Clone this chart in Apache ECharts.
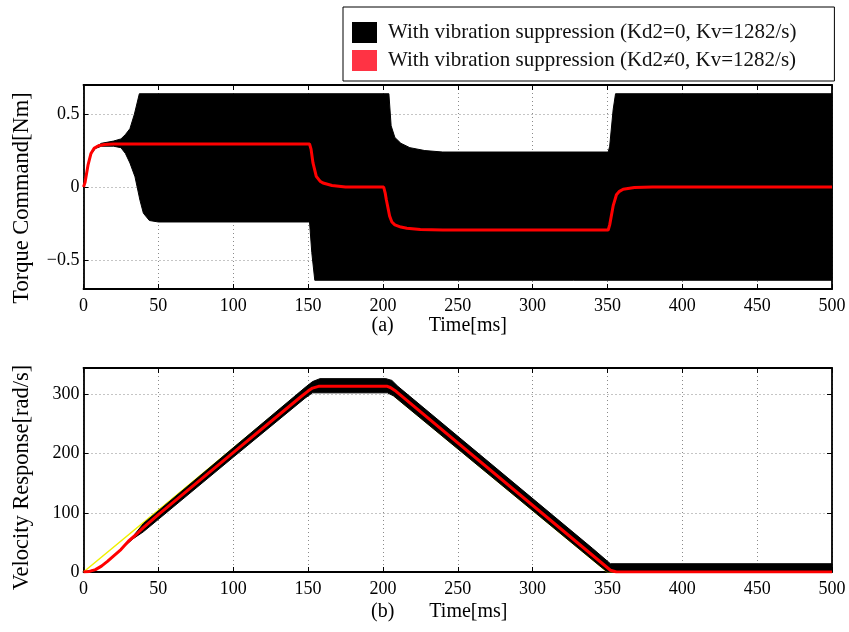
<!DOCTYPE html>
<html>
<head>
<meta charset="utf-8">
<script src="https://cdn.jsdelivr.net/npm/echarts@6.0.0/dist/echarts.min.js"></script>
<style>
  html, body { margin: 0; padding: 0; background: #fff; }
  #chart { width: 849px; height: 632px; }
</style>
</head>
<body>
<div id="chart"></div>
<script>
// names
const nameBlack = 'With vibration suppression (Kd2=0, Kv=1282/s)';
const nameRed = 'With vibration suppression (Kd2\u22600, Kv=1282/s)';
const timeTicks = [0, 50, 100, 150, 200, 250, 300, 350, 400, 450, 500];
const torqueTicks = [-0.5, 0, 0.5];
const velocityTicks = [0, 100, 200, 300];

// (a) torque command: envelope of the oscillating black trace, [ms, Nm]
const torqueBlackUpper = [[0, 0], [3, 0.15], [5, 0.235], [8, 0.275], [12, 0.3], [20, 0.315], [25, 0.33], [28, 0.36], [31, 0.4], [34, 0.5], [37.3, 0.64],
  [204, 0.64], [205.5, 0.42], [208, 0.34], [212, 0.3], [218, 0.27], [228, 0.25], [240, 0.24],
  [350.5, 0.24], [351.5, 0.28], [353.8, 0.53], [355.4, 0.64], [500, 0.64]];
const torqueBlackLower = [[0, 0], [3, 0.14], [5, 0.225], [8, 0.265], [12, 0.28], [20, 0.28], [25, 0.27], [28, 0.23], [31, 0.165], [34.4, 0.07], [37.7, -0.09],
  [40, -0.18], [44, -0.23], [50, -0.24], [151, -0.24], [152.5, -0.45], [154.5, -0.64], [500, -0.64]];
const torqueRed = [[0, 0], [1, 0.03], [3, 0.15], [5, 0.23], [7, 0.265], [10, 0.283], [14, 0.292], [20, 0.295],
  [151, 0.295], [152, 0.26], [153.3, 0.165], [155.5, 0.073], [158, 0.04], [160, 0.027], [166, 0.01], [175, 0],
  [200.5, 0], [201.5, -0.04], [202.3, -0.087], [204.5, -0.2], [206, -0.24], [208, -0.26], [212, -0.275], [216, -0.283], [225, -0.292], [240, -0.295],
  [350.5, -0.295], [351.5, -0.26], [353.8, -0.13], [356, -0.053], [358, -0.03], [360.5, -0.015], [368, -0.003], [380, 0], [500, 0]];

// (b) velocity response, [ms, rad/s]
const velocityRef = [[0, 0], [150, 314], [200, 314], [350, 0], [500, 0]];
const velocityBlackUpper = [[0, 0], [8, 4], [16, 18], [25, 38], [33, 60], [40, 82], [100, 210], [148, 312], [153, 322], [158, 327],
  [202, 327], [206, 324], [210, 314], [340, 40], [352, 14], [500, 14]];
const velocityBlackLower = [[0, 0], [8, 4], [16, 18], [25, 38], [33, 56], [40, 68], [100, 194], [148, 294], [153, 303],
  [203, 303], [207, 298], [345, 10], [350, 0], [500, 0]];
const velocityRed = [[0, 0], [4, 1], [8, 4], [12, 10], [16, 18], [20, 27], [25, 38], [30, 52], [35, 63], [40, 75], [50, 97],
  [100, 202], [145, 296], [150, 306], [153, 311], [157, 314], [203, 314], [205, 312], [208, 307], [352, 3], [356, 0], [500, 0]];

const font = 'Liberation Serif';
const frame = { show: true, onZero: false, lineStyle: { color: '#000', width: 1.8 } };
const grid = { type: [1, 3], color: '#8a8a8a', width: 1 };

function xAxes(gridIndex, name, gap) {
  return [{
    gridIndex, type: 'value', min: 0, max: 500, position: 'bottom',
    name, nameLocation: 'middle', nameGap: gap,
    nameTextStyle: { fontFamily: font, fontSize: 20, color: '#000', padding: [0, 37, 0, 0] },
    axisLine: frame,
    axisTick: { inside: true, length: 5, customValues: timeTicks, lineStyle: { color: '#000' } },
    axisLabel: { customValues: timeTicks, fontFamily: font, fontSize: 18, color: '#000', margin: 8 },
    splitLine: { show: true, lineStyle: grid }
  }, {
    gridIndex, type: 'value', min: 0, max: 500, position: 'top',
    axisLine: frame,
    axisTick: { inside: true, length: 5, customValues: timeTicks, lineStyle: { color: '#000' } },
    axisLabel: { show: false },
    splitLine: { show: false }
  }];
}

function yAxes(gridIndex, min, max, ticks, name, shift) {
  return [{
    gridIndex, type: 'value', min, max, position: 'left',
    name, nameLocation: 'middle', nameGap: 50,
    nameTextStyle: { fontFamily: font, fontSize: 22.5, color: '#000', padding: [0, shift, 0, 0] },
    axisLine: frame,
    axisTick: { inside: true, length: 5, customValues: ticks, lineStyle: { color: '#000' } },
    axisLabel: { customValues: ticks, fontFamily: font, fontSize: 18, color: '#000', margin: 4,
      formatter: (v) => (v < 0 ? '\u2212' + String(-v) : String(v)) },
    splitLine: { show: true, lineStyle: grid }
  }, {
    gridIndex, type: 'value', min, max, position: 'right',
    axisLine: frame,
    axisTick: { inside: true, length: 5, customValues: ticks, lineStyle: { color: '#000' } },
    axisLabel: { show: false },
    splitLine: { show: false }
  }];
}

// filled band between an upper and a lower envelope
function band(name, xAxisIndex, yAxisIndex, upper, lower) {
  return {
    name, type: 'custom', xAxisIndex, yAxisIndex, z: 3,
    itemStyle: { color: '#000' },
    data: [[0, 0]],
    renderItem: (params, api) => {
      const pts = upper.map((p) => api.coord(p)).concat(lower.slice().reverse().map((p) => api.coord(p)));
      return { type: 'polygon', shape: { points: pts }, style: { fill: '#000', stroke: '#000', lineWidth: 1 } };
    }
  };
}

function line(name, xAxisIndex, yAxisIndex, data, color, width, z) {
  return {
    name, type: 'line', xAxisIndex, yAxisIndex, data, z,
    symbol: 'none', smooth: false, animation: false,
    lineStyle: { color, width }, itemStyle: { color }
  };
}

const chart = echarts.init(document.getElementById('chart'));
chart.setOption({
  animation: false,
  backgroundColor: '#fff',
  textStyle: { fontFamily: font },
  grid: [
    { left: 83.5, right: 17, top: 85, bottom: 343 },
    { left: 83.5, right: 17, top: 368, bottom: 60 }
  ],
  xAxis: [...xAxes(0, '(a)       Time[ms]', 27), ...xAxes(1, '(b)       Time[ms]', 30)],
  yAxis: [...yAxes(0, -0.7, 0.7, torqueTicks, 'Torque Command[Nm]', 22), ...yAxes(1, 0, 345, velocityTicks, 'Velocity Response[rad/s]', 15)],
  legend: {
    orient: 'vertical', left: 343, top: 7, z: 10,
    backgroundColor: '#fff', borderColor: '#000', borderWidth: 1,
    padding: [15, 38, 10, 9],
    itemWidth: 25, itemHeight: 21, itemGap: 7, icon: 'rect',
    textStyle: { fontFamily: font, fontSize: 21, color: '#111', padding: [0, 0, 0, 6] },
    data: [
      { name: nameBlack, itemStyle: { color: '#000' } },
      { name: nameRed, itemStyle: { color: '#ff3344' } }
    ]
  },
  series: [
    band(nameBlack, 0, 0, torqueBlackUpper, torqueBlackLower),
    line(nameRed, 0, 0, torqueRed, '#ff0000', 3, 5),
    line('Reference', 2, 2, velocityRef, '#f0f000', 1.5, 2),
    band(nameBlack, 2, 2, velocityBlackUpper, velocityBlackLower),
    line(nameRed, 2, 2, velocityRed, '#ff0000', 3, 5)
  ]
});
</script>
</body>
</html>
